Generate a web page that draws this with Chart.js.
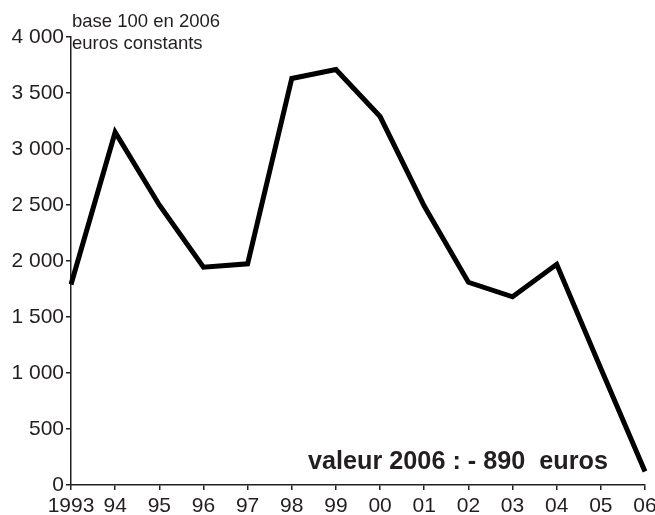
<!DOCTYPE html>
<html>
<head>
<meta charset="utf-8">
<script src="https://cdn.jsdelivr.net/npm/chart.js@4/dist/chart.umd.min.js"></script>
<style>
  html, body { margin: 0; padding: 0; background: #fff; }
  #wrap { width: 655px; height: 515px; position: relative; }
</style>
</head>
<body>
<div id="wrap"><canvas id="c" width="655" height="515"></canvas></div>
<script>
const categories = ['1993','94','95','96','97','98','99','00','01','02','03','04','05','06'];
const values = [1790, 3150, 2500, 1945, 1975, 3630, 3710, 3290, 2490, 1810, 1680, 1970, 1040, 120];
const yTickValues = [0, 500, 1000, 1500, 2000, 2500, 3000, 3500, 4000];
const unitLines = ['base 100 en 2006', 'euros constants'];
const noteText = 'valeur 2006 : - 890  euros';

function fmt(v) {
  if (v >= 1000) return Math.floor(v / 1000) + ' ' + String(v % 1000).padStart(3, '0');
  return String(v);
}

const textPlugin = {
  id: 'texts',
  afterDraw(chart) {
    const ctx = chart.ctx;
    const a = chart.chartArea;
    ctx.save();
    ctx.fillStyle = '#231f20';
    ctx.textAlign = 'left';
    ctx.textBaseline = 'alphabetic';
    ctx.font = '18.5px "Liberation Sans", Arial, sans-serif';
    ctx.fillText(unitLines[0], a.left + 1, 27);
    ctx.fillText(unitLines[1], a.left + 1, 49);
    ctx.font = 'bold 25px "Liberation Sans", Arial, sans-serif';
    const w = ctx.measureText(noteText).width;
    const target = 300;
    const sx = target / w;
    ctx.translate(a.right - 37 - target, 469);
    ctx.scale(sx, 1);
    ctx.fillText(noteText, 0, 0);
    ctx.restore();
  }
};

new Chart(document.getElementById('c'), {
  type: 'line',
  data: {
    labels: categories,
    datasets: [{
      data: values,
      borderColor: '#000',
      borderWidth: 5,
      borderJoinStyle: 'miter',
      borderCapStyle: 'butt',
      pointRadius: 0,
      tension: 0,
      fill: false
    }]
  },
  options: {
    responsive: false,
    animation: false,
    devicePixelRatio: 1,
    layout: { padding: { top: 37, right: 10, left: 0, bottom: 0 } },
    plugins: { legend: { display: false }, tooltip: { enabled: false } },
    scales: {
      x: {
        offset: false,
        grid: { drawOnChartArea: false, drawTicks: true, tickLength: 5, color: '#231f20', lineWidth: 1.5 },
        border: { display: true, color: '#231f20', width: 1.5 },
        ticks: {
          color: '#231f20',
          font: { family: '"Liberation Sans", Arial', size: 21 },
          padding: 4,
          maxRotation: 0,
          autoSkip: false
        },
        afterFit(s) { s.height = 30; s.paddingLeft = 0; s.paddingRight = 0; }
      },
      y: {
        min: 0,
        max: 4000,
        afterBuildTicks(s) { s.ticks = yTickValues.map(v => ({ value: v })); },
        grid: { drawOnChartArea: false, drawTicks: true, tickLength: 5, color: '#231f20', lineWidth: 1.5 },
        border: { display: true, color: '#231f20', width: 1.5 },
        ticks: {
          color: '#231f20',
          font: { family: '"Liberation Sans", Arial', size: 21 },
          padding: 2,
          callback: (v) => fmt(v)
        },
        afterFit(s) { s.width = 71; s.paddingTop = 0; s.paddingBottom = 0; }
      }
    }
  },
  plugins: [textPlugin]
});
</script>
</body>
</html>
